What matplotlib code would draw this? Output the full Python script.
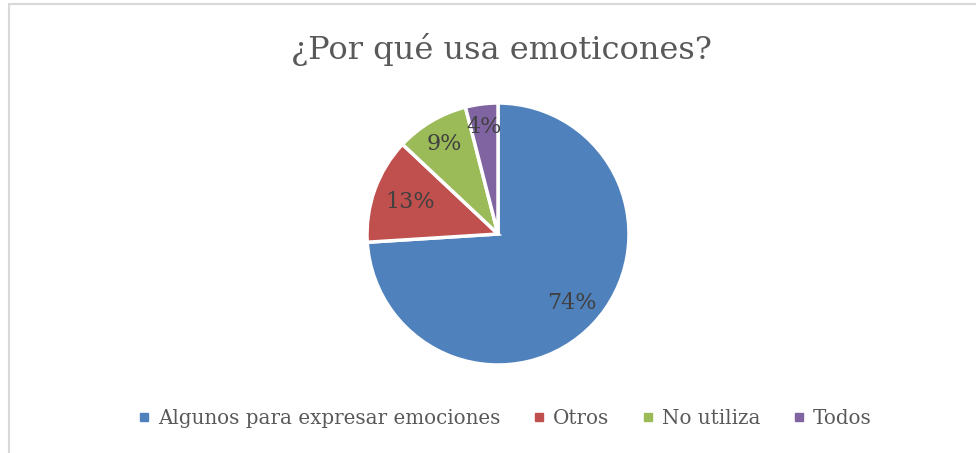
import matplotlib
matplotlib.use("Agg")
import matplotlib.pyplot as plt
import numpy as np
from matplotlib.patches import Rectangle
from matplotlib.lines import Line2D

categories = ["Algunos para expresar emociones", "Otros", "No utiliza", "Todos"]
values = [74, 13, 9, 4]
colors = ["#4F81BD", "#C0504D", "#9BBB59", "#8064A2"]
label_dist = [0.77, 0.71, 0.80, 0.82]
title = "¿Por qué usa emoticones?"

plt.rcParams['font.family'] = ['DejaVu Serif']

fig = plt.figure(figsize=(9.76, 4.53), dpi=100)
W, H = 976, 453

# chart border
fig.add_artist(Rectangle((9 / W, -0.02), 1.1, (H - 4) / H + 0.02, transform=fig.transFigure,
                         fill=False, edgecolor="#D9D9D9", linewidth=1.5))

cx, cy, r = 498, 234, 131
ax = fig.add_axes([(cx - r) / W, (H - cy - r) / H, 2 * r / W, 2 * r / H])
wedges, _ = ax.pie(values, colors=colors, startangle=90, counterclock=False,
                   wedgeprops=dict(edgecolor="white", linewidth=2.5))
ax.set_xlim(-1, 1)
ax.set_ylim(-1, 1)
ax.set_aspect("auto")
ax.axis("off")

total = sum(values)
for w, v, d in zip(wedges, values, label_dist):
    ang = np.deg2rad((w.theta1 + w.theta2) / 2)
    ax.text(d * np.cos(ang), d * np.sin(ang), f"{round(100 * v / total)}%",
            ha="center", va="center", fontsize=16, color="#404040")

fig.text(501 / W, 1 - 50 / H, title, ha="center", va="center", fontsize=23, color="#595959")

handles = [Line2D([], [], marker="s", linestyle="none", markersize=6, color=c) for c in colors]
fig.legend(handles, categories, loc="center", bbox_to_anchor=(503 / W, 1 - 418 / H), ncol=4,
           frameon=False, fontsize=14.3, labelcolor="#595959", handletextpad=0.2,
           columnspacing=1.45, handlelength=1.0)

fig.savefig("out.png", dpi=100)
